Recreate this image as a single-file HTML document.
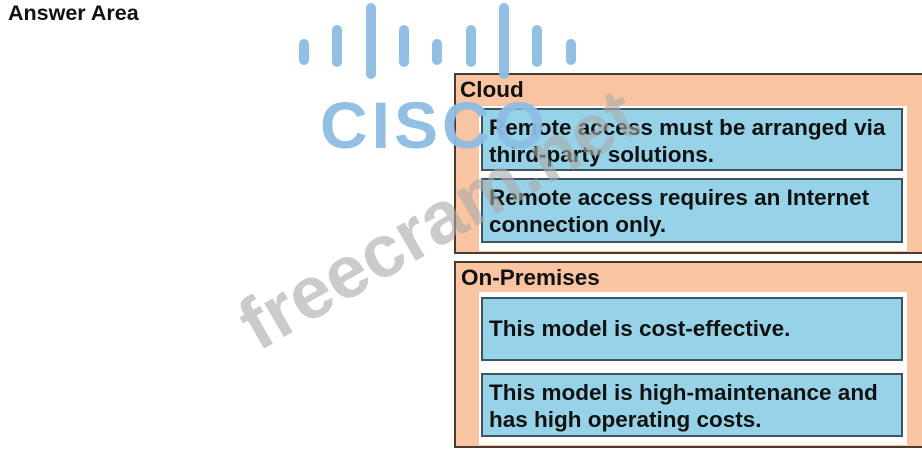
<!DOCTYPE html>
<html><head><style>
body{margin:0;width:922px;height:456px;background:#fff;position:relative;overflow:hidden;font-family:"Liberation Sans",Arial,sans-serif;}
.t{position:absolute;font-weight:bold;color:#111;}
.grp{position:absolute;left:454px;width:480px;background:#f9c4a2;border:2px solid #4a3a30;box-sizing:border-box;}
.inner{position:absolute;left:479px;width:428px;background:#fff;}
.b{position:absolute;left:481px;width:422px;background:#97d3e8;border:2px solid #3e5560;box-sizing:border-box;font-weight:bold;font-size:22.5px;line-height:27px;color:#111;padding:4px 6px;white-space:nowrap;}
</style></head><body>
<div class="t" style="left:8px;top:1px;font-size:21.5px;">Answer Area</div>

<div class="grp" style="top:73px;height:181px;"></div>
<div class="t" style="left:460px;top:77px;font-size:22.5px;">Cloud</div>
<div class="inner" style="top:106px;height:145px;"></div>
<div class="b" style="top:108px;height:63px;">Remote access must be arranged via<br>third-party solutions.</div>
<div class="b" style="top:178px;height:65px;">Remote access requires an Internet<br>connection only.</div>

<div class="grp" style="top:261px;height:187px;"></div>
<div class="t" style="left:461px;top:265px;font-size:22.5px;">On-Premises</div>
<div class="inner" style="top:292px;height:153px;"></div>
<div class="b" style="top:297px;height:64px;line-height:56px;padding-top:2px;">This model is cost-effective.</div>
<div class="b" style="top:373px;height:64px;">This model is high-maintenance and<br>has high operating costs.</div>

<svg width="922" height="456" style="position:absolute;left:0;top:0">
<g stroke="#8dbde3" stroke-width="10" stroke-linecap="round" opacity="0.95">
<line x1="304" y1="44" x2="304" y2="60"/>
<line x1="337" y1="30" x2="337" y2="62"/>
<line x1="371" y1="8" x2="371" y2="74"/>
<line x1="404" y1="30" x2="404" y2="62"/>
<line x1="437" y1="44" x2="437" y2="60"/>
<line x1="471" y1="30" x2="471" y2="62"/>
<line x1="504" y1="8" x2="504" y2="74"/>
<line x1="537" y1="30" x2="537" y2="62"/>
<line x1="571" y1="44" x2="571" y2="60"/>
</g>
<text x="320" y="148" font-family="Liberation Sans" font-weight="bold" font-size="66" fill="#8dbde3" letter-spacing="4" opacity="0.95">CISCO</text>
<text x="0" y="0" transform="translate(258,352) rotate(-30)" font-family="Liberation Sans" font-weight="bold" font-size="74" fill="#aaa" opacity="0.6">freecram.net</text>
</svg>
</body></html>
